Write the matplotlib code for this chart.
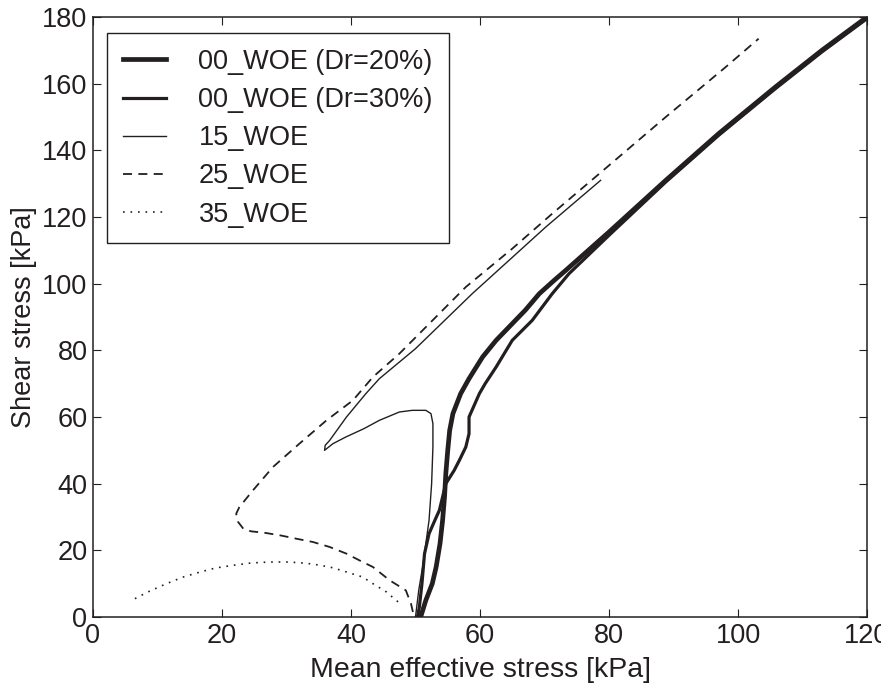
import matplotlib
matplotlib.use("Agg")
import matplotlib.pyplot as plt

# stress paths (p' [kPa], q [kPa])
p_00_20 = [50.8, 51.6, 52.6, 53.2, 53.8, 54.2, 54.5, 54.7, 55.0, 55.3, 55.8, 57.0, 58.3,
           60.4, 62.5, 64.5, 67.0, 69.2, 71.5, 73.3, 80.0, 88.8, 97.0, 105.8, 113.0, 120.0]
q_00_20 = [0, 5, 10, 15, 22, 29, 36, 43, 50, 56, 61, 67, 71.5,
           78, 83, 87, 92, 97, 101, 104, 115.5, 131, 145, 159, 170, 180]

p_00_30 = [50.3, 50.6, 51.0, 51.4, 52.1, 53.0, 53.7, 54.7, 56.0, 56.8, 57.8, 58.3, 58.3,
           59.9, 60.8, 62.5, 65.0, 68.1, 71.2, 73.8, 80.0, 88.8, 97.0, 105.8, 113.0, 120.0]
q_00_30 = [0, 3, 10, 19, 25, 29, 32, 40, 44, 47, 51, 55, 60,
           67, 70, 75, 83, 89, 97, 103, 114.5, 130.5, 144.5, 158.5, 169.5, 179.5]

p_15 = [50.0, 50.5, 51.1, 51.6, 52.1, 52.5, 52.7, 52.7, 52.4, 51.6, 49.5, 47.5, 44.4,
        42.0, 39.2, 37.2, 35.9, 36.0, 36.7, 38.0, 39.3, 42.3, 44.4, 50.0, 58.8, 70.2, 78.7]
q_15 = [0, 8, 15, 22, 29, 40, 51, 58, 61, 62, 62, 61.5, 59,
        56.5, 54, 52, 50, 51.5, 53, 56.5, 60, 67, 71.5, 80.5, 97, 117, 131]

p_25 = [49.6, 49.3, 48.5, 46.0, 43.4, 41.3, 39.3, 36.7, 34.1, 31.5, 29.0, 26.5, 24.5,
        23.3, 22.5, 22.2, 22.7, 24.8, 27.9, 32.0, 36.2, 40.3, 43.4, 47.5, 57.8, 65.0,
        71.2, 78.5, 88.8, 98.1, 103.2]
q_25 = [1.5, 4, 8, 11, 15, 17, 19, 21, 22.5, 23.5, 24.5, 25.3, 25.7,
        26.5, 28.5, 31, 33, 38, 45, 52, 59, 65, 72, 79, 99, 110.5,
        121, 133, 150, 165, 173.5]

p_35 = [6.5, 8.5, 11.4, 14.0, 16.6, 19.0, 21.7, 24.5, 27.4, 30.0, 32.0, 34.0, 36.7,
        38.5, 39.8, 41.8, 43.4, 45.5, 47.0, 48.0]
q_35 = [5.5, 7.5, 10, 12, 13.5, 14.7, 15.5, 16.2, 16.5, 16.5, 16.3, 15.9, 15.0,
        14.0, 13.2, 12.0, 10.0, 7.5, 5.0, 3.5]

ink = '#231f20'
plt.rcParams['font.family'] = ['Liberation Sans', 'DejaVu Sans']
plt.rcParams['font.size'] = 19.5
plt.rcParams['text.color'] = ink
plt.rcParams['axes.labelcolor'] = ink
plt.rcParams['xtick.color'] = ink
plt.rcParams['ytick.color'] = ink

fig = plt.figure(figsize=(8.81, 6.85), dpi=100)
ax = fig.add_axes([93 / 881, 68 / 685, 774 / 881, 600 / 685])

ax.plot(p_00_20, q_00_20, color=ink, lw=3.4, label='00_WOE (Dr=20%)')
ax.plot(p_00_30, q_00_30, color=ink, lw=2.3, label='00_WOE (Dr=30%)')
ax.plot(p_15, q_15, color=ink, lw=1.0, label='15_WOE')
ax.plot(p_25, q_25, color=ink, lw=1.3, linestyle=(0, (5, 3.5)), label='25_WOE')
ax.plot(p_35, q_35, color=ink, lw=1.2, linestyle=(0, (1, 3.5)), label='35_WOE')

ax.set_xlim(0, 120)
ax.set_ylim(0, 180)
ax.set_xticks(range(0, 121, 20))
ax.set_yticks(range(0, 181, 20))
ax.tick_params(direction='in', length=6, width=0.8, top=True, right=True, pad=4)
for s in ax.spines.values():
    s.set_linewidth(1.1)
    s.set_color(ink)

ax.set_xlabel('Mean effective stress [kPa]', fontsize=20.5, labelpad=6)
ax.set_ylabel('Shear stress [kPa]', labelpad=4)

leg = ax.legend(loc='upper left', bbox_to_anchor=(0.018, 0.973), borderaxespad=0,
                fancybox=False, framealpha=1, edgecolor=ink, handlelength=1.6,
                handletextpad=1.2, labelspacing=0.45, borderpad=0.58)
leg.get_frame().set_linewidth(1.0)

fig.savefig('out.png', dpi=100)
